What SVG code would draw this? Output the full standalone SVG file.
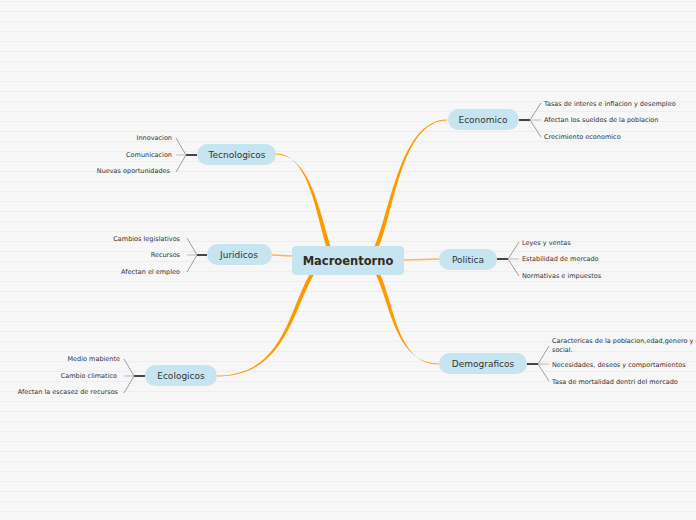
<svg xmlns="http://www.w3.org/2000/svg" width="696" height="520" viewBox="0 0 696 520">
<defs>
<pattern id="bg" width="696" height="10" patternUnits="userSpaceOnUse" y="0">
<rect width="696" height="10" fill="#f7f7f7"/>
<rect y="1" width="696" height="1" fill="#eeeeee"/>
</pattern>
</defs>
<style>
.node{fill:#c6e5f0}
.nt{font-family:"DejaVu Sans",Verdana,sans-serif;font-size:9px;fill:#333;text-anchor:middle}
.ct{font-family:"DejaVu Sans",Verdana,sans-serif;font-size:11.5px;font-weight:bold;fill:#332a25;text-anchor:middle}
.lt{font-family:"DejaVu Sans",Verdana,sans-serif;font-size:6.5px;fill:#333}
.le{text-anchor:end}
.br{fill:#f90}
.thin{stroke:#fcb45a;stroke-width:1.5;fill:none}
.stem{stroke:#444;stroke-width:2;fill:none}
.fork{stroke:#888;stroke-width:0.8;fill:none}
.mid{stroke:#bbb;stroke-width:1;fill:none}
</style>
<rect width="696" height="520" fill="url(#bg)"/>
<g id="connectors">
<path class="br" d="M373,250 C390,215 399.5,119.5 447,119.5 L447,120.5 C400.5,120.5 394,215 377.5,250 Z"/>
<path class="br" d="M327.5,250 C316,215 309,153.5 276,153.5 L276,154.5 C311,154.5 320,215 332,250 Z"/>
<path class="br" d="M311,272 C288,310 284,375.5 217,375.5 L217,376.5 C286,376.5 292,310 315.5,272 Z"/>
<path class="br" d="M374.5,272 C390,300 394,363.5 439,363.5 L439,364.5 C396,364.5 394,300 379,272 Z"/>
<path class="thin" d="M272,255 L292,256"/>
<path class="thin" d="M404,260 L439,259"/>
</g>
<g id="central">
<rect class="node" x="292" y="246" width="112" height="29" rx="4"/>
<text class="ct" x="348" y="265">Macroentorno</text>
</g>
<g id="economico">
<rect class="node" x="448" y="109" width="71" height="21" rx="10.5"/>
<text class="nt" x="483" y="123">Economico</text>
<path class="stem" d="M519,120 H530"/>
<path class="fork" d="M530,120 L541,103 M530,120 L541,137"/>
<path class="mid" d="M530,120 H541"/>
<text class="lt" x="544" y="106">Tasas de interes e inflacion y desempleo</text>
<text class="lt" x="544" y="122">Afectan los sueldos de la poblacion</text>
<text class="lt" x="544" y="139">Crecimiento economico</text>
</g>
<g id="politica">
<rect class="node" x="439" y="249" width="58" height="21" rx="10.5"/>
<text class="nt" x="468" y="263">Politica</text>
<path class="stem" d="M497,259 H508"/>
<path class="fork" d="M508,259 L519,242 M508,259 L519,276"/>
<path class="mid" d="M508,259 H519"/>
<text class="lt" x="522" y="245">Leyes y ventas</text>
<text class="lt" x="522" y="261">Estabilidad de mercado</text>
<text class="lt" x="522" y="278">Normativas e impuestos</text>
</g>
<g id="demograficos">
<rect class="node" x="439" y="353" width="88" height="21" rx="10.5"/>
<text class="nt" x="483" y="367">Demograficos</text>
<path class="stem" d="M527,364 H538"/>
<path class="fork" d="M538,364 L549,346 M538,364 L549,381"/>
<path class="mid" d="M538,364 H549"/>
<text class="lt" x="552" y="343">Caractericas de la poblacion,edad,genero y n</text>
<text class="lt" x="552" y="352">social.</text>
<text class="lt" x="552" y="367">Necesidades, deseos y comportamientos</text>
<text class="lt" x="552" y="384">Tasa de mortalidad dentri del mercado</text>
</g>
<g id="tecnologicos">
<rect class="node" x="197" y="144" width="79" height="21" rx="10.5"/>
<text class="nt" x="237" y="158">Tecnologicos</text>
<path class="stem" d="M186,155 H197"/>
<path class="fork" d="M186,155 L176,138 M186,155 L176,172"/>
<path class="mid" d="M176,155 H186"/>
<text class="lt le" x="172" y="140">Innovacion</text>
<text class="lt le" x="172" y="157">Comunicacion</text>
<text class="lt le" x="170" y="173">Nuevas oportunidades</text>
</g>
<g id="juridicos">
<rect class="node" x="207" y="244" width="65" height="21" rx="10.5"/>
<text class="nt" x="239" y="258">Juridicos</text>
<path class="stem" d="M197,255 H207"/>
<path class="fork" d="M197,255 L187,238 M197,255 L187,272"/>
<path class="mid" d="M187,255 H197"/>
<text class="lt le" x="180" y="241">Cambios legislativos</text>
<text class="lt le" x="180" y="257">Recursos</text>
<text class="lt le" x="180" y="274">Afectan el empleo</text>
</g>
<g id="ecologicos">
<rect class="node" x="145" y="365" width="72" height="21" rx="10.5"/>
<text class="nt" x="181" y="379">Ecologicos</text>
<path class="stem" d="M134,376 H145"/>
<path class="fork" d="M134,376 L124,359 M134,376 L124,393"/>
<path class="mid" d="M124,376 H134"/>
<text class="lt le" x="120" y="361">Medio mabiente</text>
<text class="lt le" x="117" y="378">Cambio climatico</text>
<text class="lt le" x="118" y="394">Afectan la escasez de recursos</text>
</g>
</svg>
